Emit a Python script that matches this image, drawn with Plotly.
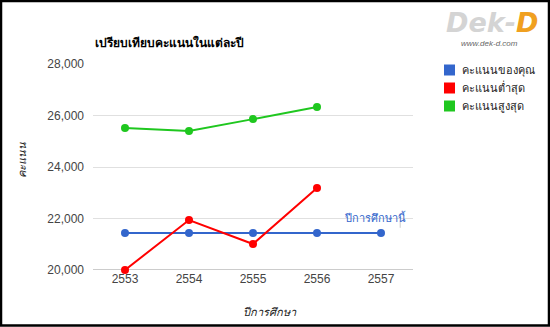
import plotly.graph_objects as go

years = [2553, 2554, 2555, 2556, 2557]
your_score = [21440, 21440, 21440, 21440, 21440]
min_score = [20000, 21940, 21010, 23180, None]
max_score = [25510, 25400, 25860, 26330, None]
series_names = ["คะแนนของคุณ", "คะแนนต่ำสุด", "คะแนนสูงสุด"]
colors = ["#3366cc", "#ff0000", "#1fc71f"]
y_ticks = [20000, 22000, 24000, 26000, 28000]

W, H = 550, 327
L, R, T, B = 93, 137, 64, 57
pw, ph = W - L - R, H - T - B

fig = go.Figure()
for vals, name, c in zip([your_score, min_score, max_score], series_names, colors):
    fig.add_trace(go.Scatter(x=years, y=vals, mode="lines+markers", name=name,
                             line=dict(color=c, width=2), marker=dict(color=c, size=8),
                             showlegend=False, cliponaxis=False, hoverinfo="x+y"))

font_fam = "Arial, Liberation Sans, sans-serif"

def px_x(p):
    return (p - L) / pw

def px_y(p):
    return 1 - (p - T) / ph

annotations = [
    dict(text="<b>เปรียบเทียบคะแนนในแต่ละปี</b>", xref="paper", yref="paper",
         x=px_x(93), y=px_y(42), xanchor="left", yanchor="middle", showarrow=False,
         font=dict(size=12, color="#000000", family=font_fam)),
    dict(text="<i>คะแนน</i>", xref="paper", yref="paper", x=px_x(22), y=px_y(160),
         xanchor="center", yanchor="middle", textangle=-90, showarrow=False,
         font=dict(size=11, color="#222222", family=font_fam)),
    dict(text="<i>ปีการศึกษา</i>", xref="paper", yref="paper", x=px_x(270), y=px_y(312),
         xanchor="center", yanchor="middle", showarrow=False,
         font=dict(size=11, color="#222222", family=font_fam)),
    dict(text="ปีการศึกษานี้", xref="x", yref="y", x=2557.42, y=your_score[-1],
         xanchor="right", yanchor="middle", yshift=16, showarrow=False,
         font=dict(size=11, color="#3366cc", family=font_fam)),
    dict(text="<b><i>Dek-<span style='color:#f0a020'>D</span></i></b>", xref="paper", yref="paper",
         x=px_x(492), y=px_y(22), xanchor="center", yanchor="middle", showarrow=False,
         font=dict(size=27, color="#d4d4d4", family="DejaVu Sans, sans-serif")),
    dict(text="<i>www.dek-d.com</i>", xref="paper", yref="paper",
         x=px_x(489), y=px_y(43), xanchor="center", yanchor="middle", showarrow=False,
         font=dict(size=8, color="#666666", family=font_fam)),
]

shapes = [
    dict(type="rect", xref="paper", yref="paper",
         x0=px_x(1), x1=px_x(W - 1), y0=px_y(H - 1.5), y1=px_y(1),
         line=dict(color="#000000", width=2.5), fillcolor="rgba(0,0,0,0)", layer="above"),
    dict(type="line", xref="x", yref="y", x0=2557.3, x1=2557.3, y0=your_score[-1] + 200,
         y1=your_score[-1] + 480, line=dict(color="#cccccc", width=1)),
    dict(type="line", xref="paper", yref="y", x0=0, x1=1, y0=20000, y1=20000,
         line=dict(color="#999999", width=1), layer="below"),
]

# legend drawn manually
for i, (name, c) in enumerate(zip(series_names, colors)):
    cy = 70 + 18 * i
    shapes.append(dict(type="rect", xref="paper", yref="paper",
                       x0=px_x(444), x1=px_x(455), y0=px_y(cy + 5.5), y1=px_y(cy - 5.5),
                       line=dict(width=0), fillcolor=c))
    annotations.append(dict(text=name, xref="paper", yref="paper", x=px_x(460), y=px_y(cy),
                            xanchor="left", yanchor="middle", showarrow=False,
                            font=dict(size=11, color="#222222", family=font_fam)))

fig.update_layout(
    width=W, height=H,
    margin=dict(l=L, r=R, t=T, b=B),
    paper_bgcolor="white", plot_bgcolor="white",
    font=dict(family=font_fam, size=12, color="#444444"),
    xaxis=dict(range=[2552.5, 2557.5], tickvals=years, ticktext=[str(y) for y in years],
               showgrid=False, zeroline=False, showline=False, ticks="",
               tickfont=dict(size=12, color="#444444")),
    yaxis=dict(range=[20000, 28000], tickvals=y_ticks,
               ticktext=[f"{v:,}" for v in y_ticks], showgrid=True, gridcolor="#e0e0e0",
               gridwidth=1, zeroline=False, showline=False, ticks="", ticklabelstandoff=8,
               tickfont=dict(size=12, color="#444444")),
    annotations=annotations,
    shapes=shapes,
    showlegend=False,
)

fig.write_html("out.html")
